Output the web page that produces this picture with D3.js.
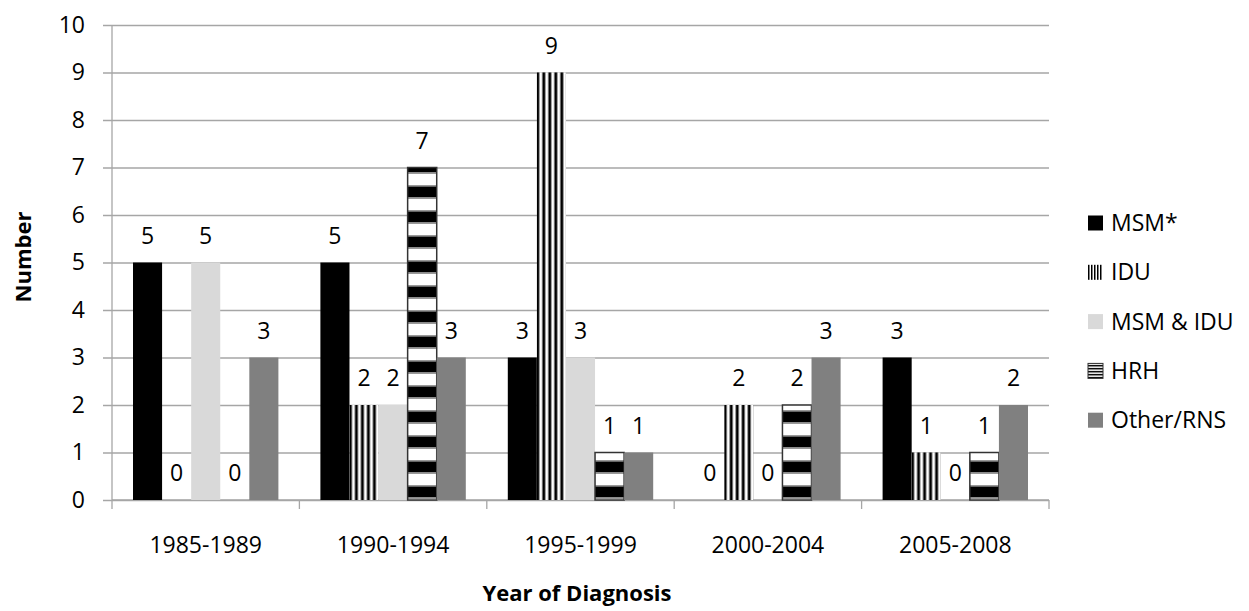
<!DOCTYPE html>
<html>
<head>
<meta charset="utf-8">
<script src="https://cdn.jsdelivr.net/npm/d3@7"></script>
<style>
  body { margin: 0; background: #fff; }
  svg text { font-family: "Open Sans", "Noto Sans", sans-serif; fill: #000; }
</style>
</head>
<body>
<svg width="1249" height="611"></svg>
<script>
// Data
var periods = ['1985-1989', '1990-1994', '1995-1999', '2000-2004', '2005-2008'];
var seriesNames = ['MSM*', 'IDU', 'MSM & IDU', 'HRH', 'Other/RNS'];
var msm = [5, 5, 3, 0, 3];
var idu = [0, 2, 9, 2, 1];
var msmIdu = [5, 2, 3, 0, 0];
var hrh = [0, 7, 1, 2, 1];
var other = [3, 3, 1, 3, 2];
var yTicks = [0, 1, 2, 3, 4, 5, 6, 7, 8, 9, 10];

var seriesValues = [msm, idu, msmIdu, hrh, other];

// Plot area
var margin = {top: 25, left: 112};
var width = 937;
var height = 475;
var fs = 23;

var svg = d3.select('svg');
var defs = svg.append('defs');

// IDU: thin vertical stripes
var pIdu = defs.append('pattern').attr('id', 'p-idu').attr('patternUnits', 'userSpaceOnUse')
  .attr('width', 6).attr('height', 6);
pIdu.append('rect').attr('width', 6).attr('height', 6).attr('fill', '#fff');
pIdu.append('rect').attr('x', 1).attr('width', 1).attr('height', 6).attr('fill', '#888');
pIdu.append('rect').attr('x', 2).attr('width', 2).attr('height', 6).attr('fill', '#000');
pIdu.append('rect').attr('x', 4).attr('width', 1).attr('height', 6).attr('fill', '#888');

// HRH: wide horizontal stripes
var pHrh = defs.append('pattern').attr('id', 'p-hrh').attr('patternUnits', 'userSpaceOnUse')
  .attr('width', 8).attr('height', 25);
pHrh.append('rect').attr('width', 8).attr('height', 25).attr('fill', '#fff');
pHrh.append('rect').attr('y', 10).attr('width', 8).attr('height', 1.5).attr('fill', '#999');
pHrh.append('rect').attr('y', 11.5).attr('width', 8).attr('height', 11).attr('fill', '#000');
pHrh.append('rect').attr('y', 22.5).attr('width', 8).attr('height', 1.5).attr('fill', '#999');

// smaller versions for the legend keys
var lIdu = defs.append('pattern').attr('id', 'l-idu').attr('patternUnits', 'userSpaceOnUse')
  .attr('width', 3).attr('height', 3);
lIdu.append('rect').attr('width', 3).attr('height', 3).attr('fill', '#fff');
lIdu.append('rect').attr('width', 1.5).attr('height', 3).attr('fill', '#000');
var lHrh = defs.append('pattern').attr('id', 'l-hrh').attr('patternUnits', 'userSpaceOnUse')
  .attr('width', 3).attr('height', 3);
lHrh.append('rect').attr('width', 3).attr('height', 3).attr('fill', '#fff');
lHrh.append('rect').attr('width', 3).attr('height', 1.5).attr('fill', '#000');

var fills = ['#000', 'url(#p-idu)', '#d9d9d9', 'url(#p-hrh)', '#808080'];
var legendFills = ['#000', 'url(#l-idu)', '#d9d9d9', 'url(#l-hrh)', '#808080'];

// Scales
var x0 = d3.scaleBand().domain(periods).range([0, width]);
var x1 = d3.scaleBand().domain(seriesNames).range([21, x0.bandwidth() - 21]);
var y = d3.scaleLinear().domain([0, 10]).range([height, 0]);

var chart = svg.append('g')
  .attr('transform', 'translate(' + margin.left + ',' + margin.top + ')');

// Gridlines and y axis
var yAxis = d3.axisLeft(y).tickValues(yTicks).tickSize(-width).tickPadding(27);
var yg = chart.append('g').call(yAxis);
yg.select('.domain').remove();
yg.selectAll('.tick line').attr('stroke', '#a6a6a6').attr('stroke-width', 1.3).attr('x1', -9);
yg.selectAll('.tick text').attr('font-size', fs).attr('x', -27).style('font-family', '"Open Sans", sans-serif');
chart.append('line').attr('x1', 0).attr('x2', 0).attr('y1', 0).attr('y2', height)
  .attr('stroke', '#a6a6a6').attr('stroke-width', 1.3);

// X axis with ticks at group boundaries
var xg = chart.append('g').attr('transform', 'translate(0,' + height + ')');
xg.append('line').attr('x1', 0).attr('x2', width).attr('stroke', '#a6a6a6').attr('stroke-width', 1.3);
xg.selectAll('.bt').data(d3.range(periods.length + 1)).enter().append('line')
  .attr('x1', d => d * x0.step()).attr('x2', d => d * x0.step())
  .attr('y1', 0).attr('y2', 9).attr('stroke', '#a6a6a6').attr('stroke-width', 1.3);
xg.selectAll('.lbl').data(periods).enter().append('text')
  .attr('x', d => x0(d) + x0.bandwidth() / 2).attr('y', 53)
  .attr('text-anchor', 'middle').attr('font-size', fs).text(d => d);

// Bars
var groups = chart.selectAll('.grp').data(periods).enter().append('g')
  .attr('transform', d => 'translate(' + x0(d) + ',0)');

groups.each(function(p, i) {
  var cells = seriesNames.map((s, k) => ({series: s, k: k, value: seriesValues[k][i]}));
  var g = d3.select(this);
  g.selectAll('rect').data(cells).enter().append('rect')
    .attr('x', d => x1(d.series))
    .attr('y', d => y(d.value))
    .attr('width', x1.bandwidth())
    .attr('height', d => height - y(d.value))
    .attr('fill', d => fills[d.k])
    .attr('stroke', d => d.k === 3 && d.value > 0 ? '#333' : 'none')
    .attr('stroke-width', 1.5);
  g.selectAll('text').data(cells).enter().append('text')
    .attr('x', d => x1(d.series) + x1.bandwidth() / 2)
    .attr('y', d => y(d.value) - 19)
    .attr('text-anchor', 'middle').attr('font-size', fs)
    .text(d => d.value);
});

// Axis titles
svg.append('text').attr('transform', 'translate(31,257) rotate(-90)')
  .attr('text-anchor', 'middle').attr('font-size', 22).attr('font-weight', 'bold')
  .text('Number');
svg.append('text').attr('x', 577).attr('y', 601)
  .attr('text-anchor', 'middle').attr('font-size', 22).attr('font-weight', 'bold')
  .text('Year of Diagnosis');

// Legend
var legend = svg.append('g').attr('transform', 'translate(1088,223)');
var items = legend.selectAll('g').data(seriesNames).enter().append('g')
  .attr('transform', (d, i) => 'translate(0,' + (i * 49.3) + ')');
items.append('rect').attr('x', 0).attr('y', -7.5).attr('width', 15).attr('height', 15)
  .attr('fill', (d, i) => legendFills[i])
  .attr('stroke', (d, i) => i === 3 ? '#333' : 'none').attr('stroke-width', 1);
items.append('text').attr('x', 23).attr('dy', '0.35em').attr('font-size', fs).text(d => d);
</script>
</body>
</html>
